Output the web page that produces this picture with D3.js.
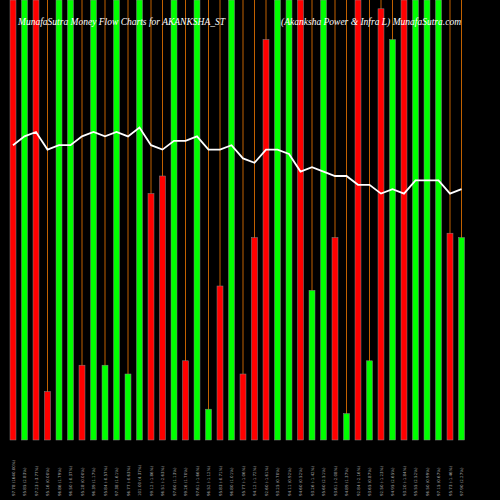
<!DOCTYPE html><html><head><script src="https://d3js.org/d3.v7.min.js"></script>
<style>body{margin:0;background:#000}</style></head><body><svg id="c" width="500" height="500"></svg>
<script>
const labels=["97.78 (1640.00%)","95.85 (2.83%)","97.23 (-3.77%)","95.16 (0.00%)","96.86 (1.79%)","96.50 (-0.37%)","95.28 (0.00%)","96.39 (1.17%)","95.84 (-0.57%)","97.38 (1.61%)","96.77 (-0.63%)","101.00 (4.37%)","99.12 (-1.86%)","96.51 (-2.63%)","97.60 (1.13%)","99.26 (1.70%)","97.61 (-1.66%)","96.52 (-1.12%)","95.83 (-0.71%)","96.80 (1.01%)","95.77 (-1.06%)","94.12 (-1.72%)","92.60 (-1.61%)","93.25 (0.70%)","94.11 (0.92%)","94.60 (0.52%)","93.26 (-1.42%)","95.60 (2.51%)","93.61 (-2.08%)","94.89 (1.37%)","92.84 (-2.16%)","93.65 (0.87%)","92.50 (-1.23%)","94.95 (2.65%)","93.20 (-1.84%)","95.55 (2.52%)","96.50 (0.99%)","97.15 (0.67%)","95.73 (-1.46%)","97.90 (2.27%)"];
const colors=["r","g","r","r","g","g","r","g","g","g","g","g","r","r","g","r","g","g","r","g","r","r","r","g","g","r","g","g","r","g","r","g","r","g","r","g","g","g","r","g"];
const volumes=[100,100,100,11,100,100,17,100,17,100,15,100,56,60,100,18,100,7,35,100,15,46,91,100,100,100,34,100,46,6,100,18,98,91,100,100,100,100,47,46];
const mfi=[67,69,70,66,67,67,69,70,69,70,69,71,67,66,68,68,69,66,66,67,64,63,66,66,65,61,62,61,60,60,58,58,56,57,56,59,59,59,56,57];
const svg=d3.select("#c");
svg.append("rect").attr("width",500).attr("height",500).attr("fill","#000");
const x=d3.scaleBand().domain(d3.range(labels.length)).range([7.25,467.25]).paddingInner(0.48).paddingOuter(0.24);
const y=d3.scaleLinear().domain([0,100]).range([440,0]);
const cx=i=>x(i)+x.bandwidth()/2;
svg.selectAll(".o").data(labels).join("line").attr("x1",(d,i)=>cx(i)).attr("x2",(d,i)=>cx(i)).attr("y1",0).attr("y2",440).attr("stroke","#c06000").attr("stroke-width",1);
svg.selectAll(".b").data(volumes).join("rect").attr("x",(d,i)=>x(i)).attr("width",x.bandwidth()).attr("y",d=>y(d)).attr("height",d=>440-y(d))
 .attr("fill",(d,i)=>colors[i]=="r"?"#ff0000":"#00ff00").attr("stroke","#888").attr("stroke-width",0.5);
svg.append("path").datum(mfi).attr("d",d3.line().x((d,i)=>cx(i)).y(d=>y(d))).attr("fill","none").attr("stroke","#fff").attr("stroke-width",1.8);
svg.selectAll(".l").data(labels).join("text").attr("transform",(d,i)=>`translate(${cx(i)+1.5},496) rotate(-90)`).attr("fill","#aaa").attr("font-size",4).attr("font-family","DejaVu Sans").text(d=>d);
svg.append("text").attr("x",18).attr("y",25).attr("fill","#fff").attr("font-size",9.5).attr("font-style","italic").attr("font-family","Liberation Serif").text("MunafaSutra Money Flow Charts for AKANKSHA_ST");
svg.append("text").attr("x",461).attr("y",25).attr("text-anchor","end").attr("fill","#fff").attr("font-size",9.5).attr("font-style","italic").attr("font-family","Liberation Serif").text("(Akanksha Power & Infra L) MunafaSutra.com");
</script></body></html>
